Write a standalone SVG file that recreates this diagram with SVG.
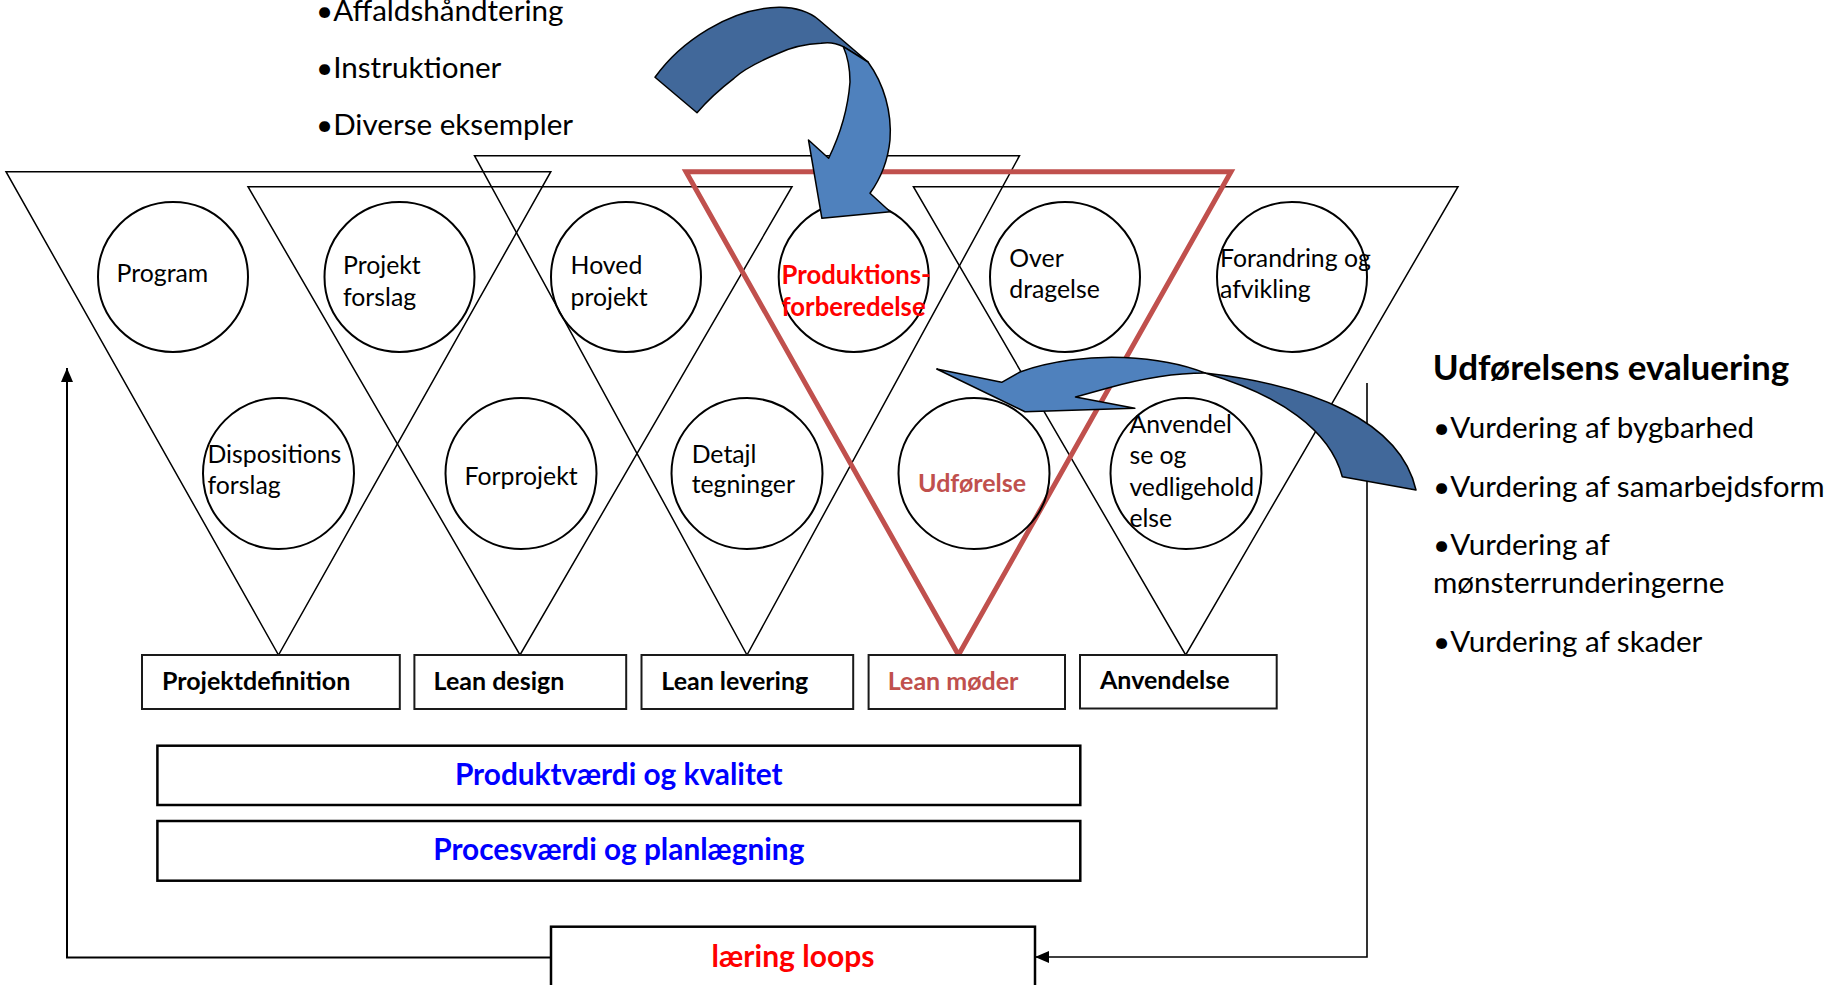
<svg xmlns="http://www.w3.org/2000/svg" width="1845" height="985" viewBox="0 0 1845 985">
<defs>
<marker id="ah" viewBox="0 0 14 12" refX="14" refY="6" markerWidth="14" markerHeight="12" markerUnits="userSpaceOnUse" orient="auto">
<path d="M0,0 L14,6 L0,12 z" fill="#000"/>
</marker>
</defs>
<style>
.tri{fill:none;stroke:#000;stroke-width:1.5}
.redtri{fill:none;stroke:#C0504D;stroke-width:5}
.circ{fill:none;stroke:#000;stroke-width:2}
.box{fill:#fff;stroke:#1a1a1a;stroke-width:2}
.wide{fill:#fff;stroke:#000;stroke-width:2.5}
.conn{fill:none;stroke:#000;stroke-width:2}
.t{font-family:Lato,"Liberation Sans",sans-serif;font-size:24.8px;fill:#000}
.tb{font-family:Lato,"Liberation Sans",sans-serif;font-size:25px;font-weight:bold;fill:#000}
.list{font-family:Lato,"Liberation Sans",sans-serif;font-size:29.6px;fill:#000}
.head{font-family:Lato,"Liberation Sans",sans-serif;font-size:35px;font-weight:bold;fill:#000}
.blue{font-family:Lato,"Liberation Sans",sans-serif;font-size:29.8px;font-weight:bold;fill:#0000FF}
.loop{font-family:Lato,"Liberation Sans",sans-serif;font-size:30px;font-weight:bold;fill:#FF0000}
.rd{fill:#FF0000}
.brn{fill:#C0504D}
.dark{fill:#41689A;stroke:#000;stroke-width:1.5;stroke-linejoin:round}
.light{fill:#4F81BD;stroke:#000;stroke-width:1.5;stroke-linejoin:round}
</style>

<g id="list-top">
<text class="list" x="316" y="21">•Affaldshåndtering</text>
<text class="list" x="316" y="78">•Instruktioner</text>
<text class="list" x="316" y="135">•Diverse eksempler</text>
</g>

<g id="triangle-projektdefinition"><polygon class="tri" points="6,171.7 550.8,171.7 278.5,655"/></g>
<g id="triangle-lean-design"><polygon class="tri" points="248,186.7 792,186.7 520,655"/></g>
<g id="triangle-lean-levering"><polygon class="tri" points="474.5,155.7 1019.5,155.7 747,655"/></g>
<g id="triangle-anvendelse"><polygon class="tri" points="913.4,186.7 1458,186.7 1185.7,655"/></g>
<g id="triangle-lean-moeder"><polygon class="redtri" points="686,171.7 1231,171.7 958.5,655"/></g>

<g id="circle-program"><circle class="circ" cx="173" cy="277" r="75"/><text class="t" x="116.6" y="281.7">Program</text></g>
<g id="circle-projektforslag"><circle class="circ" cx="399.5" cy="277" r="75"/><text class="t" x="343" y="274">Projekt</text><text class="t" x="343" y="306">forslag</text></g>
<g id="circle-hovedprojekt"><circle class="circ" cx="626" cy="277" r="75"/><text class="t" x="570.6" y="274">Hoved</text><text class="t" x="570.6" y="306">projekt</text></g>
<g id="circle-produktionsforberedelse"><circle class="circ" cx="853.7" cy="277" r="75"/><text class="tb rd" style="font-size:25.7px" x="781.5" y="284.3">Produktions-</text><text class="tb rd" style="font-size:25.7px" x="781.5" y="315.7">forberedelse</text></g>
<g id="circle-overdragelse"><circle class="circ" cx="1065" cy="277" r="75"/><text class="t" x="1009.3" y="266.7">Over</text><text class="t" x="1009.3" y="298.3">dragelse</text></g>
<g id="circle-forandring"><circle class="circ" cx="1292" cy="277" r="75"/><text class="t" x="1220" y="266.7">Forandring og</text><text class="t" x="1220" y="298.3">afvikling</text></g>

<g id="circle-dispositionsforslag"><circle class="circ" cx="278.5" cy="473.5" r="75.5"/><text class="t" x="207.5" y="462.7">Dispositions</text><text class="t" x="207.5" y="494.3">forslag</text></g>
<g id="circle-forprojekt"><circle class="circ" cx="521" cy="473.5" r="75.5"/><text class="t" x="464.6" y="485">Forprojekt</text></g>
<g id="circle-detajltegninger"><circle class="circ" cx="747" cy="473.5" r="75.5"/><text class="t" x="691.7" y="462.7">Detajl</text><text class="t" x="691.7" y="493.3">tegninger</text></g>
<g id="circle-udfoerelse"><circle class="circ" cx="974" cy="473.5" r="75.5"/><text class="tb brn" x="918" y="491.7">Udførelse</text></g>
<g id="circle-anvendelse"><circle class="circ" cx="1186" cy="473.5" r="75.5"/><text class="t" x="1129.4" y="432.5">Anvendel</text><text class="t" x="1129.4" y="464">se og</text><text class="t" x="1129.4" y="495.5">vedligehold</text><text class="t" x="1129.4" y="527">else</text></g>

<g id="box-projektdefinition"><rect class="box" x="142" y="655" width="257.8" height="54"/><text class="tb" x="162" y="690">Projektdefinition</text></g>
<g id="box-lean-design"><rect class="box" x="414.4" y="655" width="211.8" height="54"/><text class="tb" x="433.6" y="690">Lean design</text></g>
<g id="box-lean-levering"><rect class="box" x="641.5" y="655" width="211.7" height="54"/><text class="tb" x="661.3" y="690">Lean levering</text></g>
<g id="box-lean-moeder"><rect class="box" x="868.6" y="655" width="196.4" height="54"/><text class="tb brn" x="887.7" y="690">Lean møder</text></g>
<g id="box-anvendelse"><rect class="box" x="1080" y="655" width="196.7" height="53.5"/><text class="tb" x="1100" y="689.3">Anvendelse</text></g>

<g id="box-produktvaerdi"><rect class="wide" x="157.4" y="745.7" width="922.9" height="59.3"/><text class="blue" x="618.8" y="785" text-anchor="middle">Produktværdi og kvalitet</text></g>
<g id="box-procesvaerdi"><rect class="wide" x="157.4" y="821" width="922.9" height="59.7"/><text class="blue" x="618.8" y="860" text-anchor="middle">Procesværdi og planlægning</text></g>
<g id="box-laering-loops"><rect class="wide" x="551" y="926.7" width="484" height="70"/><text class="loop" x="793" y="966.7" text-anchor="middle">læring loops</text></g>

<g id="list-right">
<text class="head" x="1432.8" y="380">Udførelsens evaluering</text>
<text class="list" x="1433" y="438.3">•Vurdering af bygbarhed</text>
<text class="list" x="1433" y="496.7">•Vurdering af samarbejdsform</text>
<text class="list" x="1433" y="555">•Vurdering af</text>
<text class="list" x="1433" y="593.3">mønsterrunderingerne</text>
<text class="list" x="1433" y="651.7">•Vurdering af skader</text>
</g>

<g id="connectors">
<polyline class="conn" points="551,957.5 67,957.5 67,368" marker-end="url(#ah)"/>
<polyline class="conn" style="stroke-width:1.6" points="1367,383 1367,957 1035,957" marker-end="url(#ah)"/>
<g id="arrow-to-produktion">
<path class="dark" d="M655,77.3 C680,42 730,8 779,7.3 C795,7 810,12 819,20 L868,62 L843.3,46.7 C836,43 828,42 821,43.3 C805,44 790,48 778.6,53.3 C760,61 745,68 734,78.3 C720,89 707,101 697,112.7 Z"/>
<path class="light" d="M868,62 C884,84 892,112 890,140 C888,160 881,178 870,193.3 L890.2,211.7 L821.9,218.3 L808.5,140 L828.6,158.3 C840,135 848,108 850,82 C850,66 847,55 843.3,46.7 Z"/>
</g>
<g id="arrow-to-udfoerelse">
<path class="light" d="M936.7,369 L1001.7,382.3 L1020,372 C1050,361 1090,356 1124,357.5 C1158,359 1185,365 1205,373 C1175,373 1140,379 1108,388 L1075.5,397 L1134.8,408.3 L1025,411.7 Z"/>
<path class="dark" d="M1205,373 C1310,385 1400,420 1416,490 L1342.3,476.7 C1330,430 1280,395 1205,373 Z"/>
</g>
</g>
</svg>
